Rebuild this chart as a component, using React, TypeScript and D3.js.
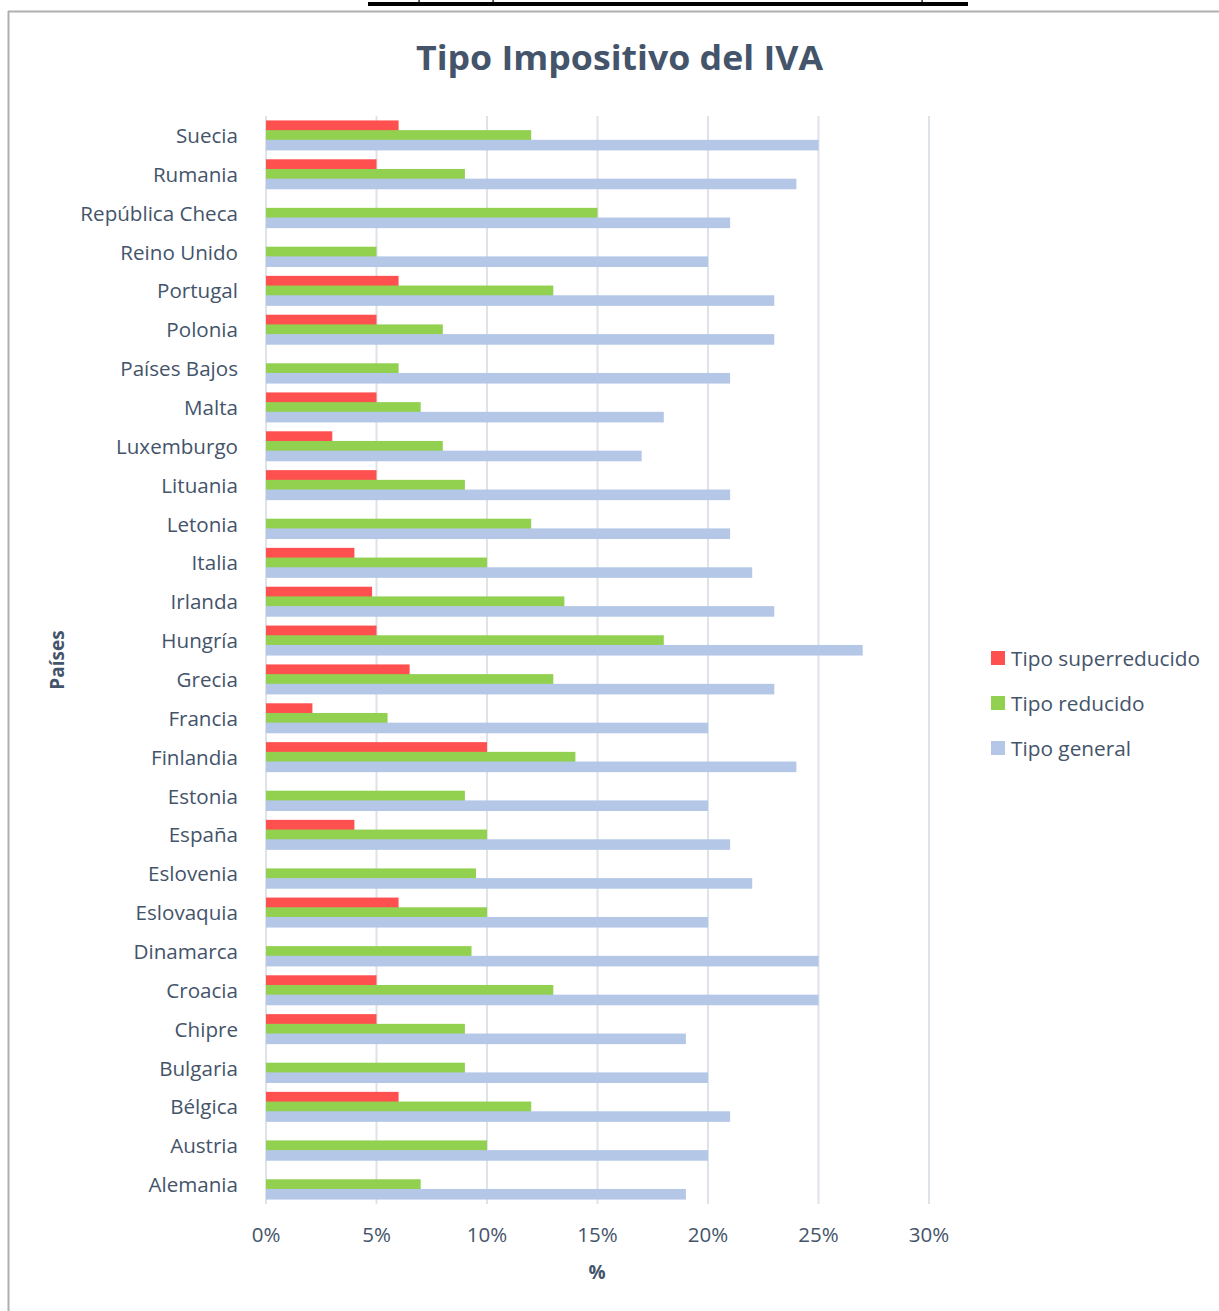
import React from "react";
import * as d3 from "d3";

const countries = [
  "Suecia", "Rumania", "República Checa", "Reino Unido", "Portugal", "Polonia",
  "Países Bajos", "Malta", "Luxemburgo", "Lituania", "Letonia", "Italia",
  "Irlanda", "Hungría", "Grecia", "Francia", "Finlandia", "Estonia", "España",
  "Eslovenia", "Eslovaquia", "Dinamarca", "Croacia", "Chipre", "Bulgaria",
  "Bélgica", "Austria", "Alemania",
];

const superreducido: (number | null)[] = [
  6, 5, null, null, 6, 5, null, 5, 3, 5, null, 4, 4.8, 5, 6.5, 2.1, 10, null, 4,
  null, 6, null, 5, 5, null, 6, null, null,
];
const reducido = [
  12, 9, 15, 5, 13, 8, 6, 7, 8, 9, 12, 10, 13.5, 18, 13, 5.5, 14, 9, 10, 9.5, 10,
  9.3, 13, 9, 9, 12, 10, 7,
];
const general = [
  25, 24, 21, 20, 23, 23, 21, 18, 17, 21, 21, 22, 23, 27, 23, 20, 24, 20, 21, 22,
  20, 25, 25, 19, 20, 21, 20, 19,
];

const xTicks = [0, 5, 10, 15, 20, 25, 30];
const seriesNames = ["Tipo superreducido", "Tipo reducido", "Tipo general"];
const seriesColors = ["#FF5050", "#92D050", "#B4C7E7"];

const TEXT = "#44546A";
const FONT = "'Open Sans', sans-serif";

export default function App() {
  const x = d3.scaleLinear().domain([0, 30]).range([266, 929]);
  const y = d3.scaleBand<string>().domain(countries).range([116, 1204]).padding(0);
  const barH = 10.6;
  const step = 9.7;
  const series = [superreducido, reducido, general];

  return (
    <svg
      width={1219}
      height={1311}
      style={{ position: "absolute", left: 0, top: 0, background: "#fff" }}
      fontFamily={FONT}
    >
      {/* underline remnant at top */}
      <rect x={368} y={2} width={600} height={4} fill="#000" />
      <rect x={418.5} y={0} width={1.2} height={3} fill="#000" />
      <rect x={492.5} y={0} width={1.2} height={3} fill="#000" />
      <rect x={921.5} y={0} width={1.2} height={3} fill="#000" />

      {/* chart frame */}
      <line x1={8} y1={11.5} x2={1219} y2={11.5} stroke="#AFAFAF" strokeWidth={2} />
      <line x1={8.5} y1={11} x2={8.5} y2={1311} stroke="#AFAFAF" strokeWidth={2} />

      {/* title */}
      <text
        x={619.5}
        y={70}
        textAnchor="middle"
        fontSize={34}
        fontWeight="bold"
        fill={TEXT}
        textLength={407}
        lengthAdjust="spacingAndGlyphs"
      >
        Tipo Impositivo del IVA
      </text>

      {/* gridlines */}
      {xTicks.map((t) => (
        <line
          key={t}
          x1={x(t)}
          x2={x(t)}
          y1={116}
          y2={1204}
          stroke="#DEE2E9"
          strokeWidth={2}
        />
      ))}

      {/* bars */}
      {series.map((vals, si) => (
        <g key={si}>
          {countries.map((c, i) => {
            const v = vals[i];
            if (v == null) return null;
            const cy = (y(c) as number) + y.bandwidth() / 2 + (si - 1) * step;
            return (
              <rect
                key={c}
                x={x(0)}
                y={cy - barH / 2}
                width={x(v) - x(0)}
                height={barH}
                fill={seriesColors[si]}
              />
            );
          })}
        </g>
      ))}

      {/* category labels */}
      {countries.map((c) => (
        <text
          key={c}
          x={238}
          y={(y(c) as number) + y.bandwidth() / 2 - 0.5}
          textAnchor="end"
          dominantBaseline="central"
          fontSize={20.6}
          fill={TEXT}
        >
          {c}
        </text>
      ))}

      {/* x tick labels */}
      {xTicks.map((t) => (
        <text
          key={t}
          x={x(t)}
          y={1234}
          textAnchor="middle"
          dominantBaseline="central"
          fontSize={20.5}
          fill={TEXT}
        >
          {t}%
        </text>
      ))}

      {/* axis titles */}
      <text
        x={597}
        y={1272}
        textAnchor="middle"
        dominantBaseline="central"
        fontSize={19}
        fontWeight="bold"
        fill={TEXT}
      >
        %
      </text>
      <text
        transform="translate(57,660) rotate(-90)"
        textAnchor="middle"
        dominantBaseline="central"
        fontSize={19}
        fontWeight="bold"
        fill={TEXT}
      >
        Países
      </text>

      {/* legend */}
      {seriesNames.map((n, i) => (
        <g key={n} transform={`translate(991,${658 + i * 45})`}>
          <rect x={0} y={-7} width={14} height={14} fill={seriesColors[i]} />
          <text x={20} y={0} dominantBaseline="central" fontSize={20.8} fill={TEXT}>
            {n}
          </text>
        </g>
      ))}
    </svg>
  );
}
